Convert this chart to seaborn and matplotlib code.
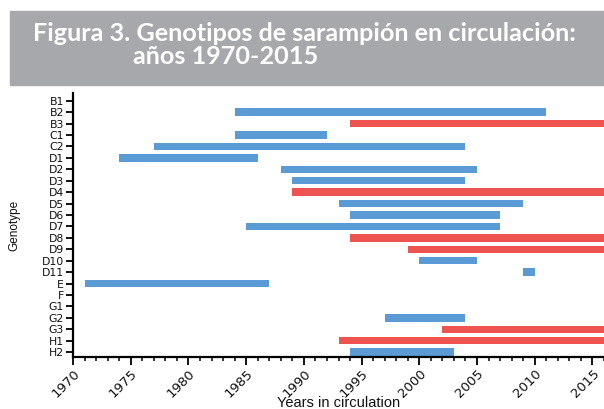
import matplotlib
matplotlib.use("Agg")
import matplotlib.pyplot as plt
from matplotlib.patches import Rectangle
from matplotlib.ticker import MultipleLocator
import seaborn as sns
import pandas as pd

genotypes = ["B1", "B2", "B3", "C1", "C2", "D1", "D2", "D3", "D4", "D5", "D6",
             "D7", "D8", "D9", "D10", "D11", "E", "F", "G1", "G2", "G3", "H1", "H2"]
bar_genotype = ["B2", "B3", "C1", "C2", "D1", "D2", "D3", "D4", "D5", "D6", "D7",
                "D8", "D9", "D10", "D11", "E", "G2", "G3", "H1", "H2"]
start_year = [1984, 1994, 1984, 1977, 1974, 1988, 1989, 1989, 1993, 1994, 1985,
              1994, 1999, 2000, 2009, 1971, 1997, 2002, 1993, 1994]
end_year = [2011, 2016, 1992, 2004, 1986, 2005, 2004, 2016, 2009, 2007, 2007,
            2016, 2016, 2005, 2010, 1987, 2004, 2016, 2016, 2003]
status = ["inactive", "active", "inactive", "inactive", "inactive", "inactive",
          "inactive", "active", "inactive", "inactive", "inactive", "active",
          "active", "inactive", "inactive", "inactive", "inactive", "active",
          "active", "inactive"]
palette = {"inactive": "#5A9BD5", "active": "#EF534F"}

df = pd.DataFrame({"genotype": bar_genotype, "start": start_year,
                   "end": end_year, "status": status})
df["duration"] = df["end"] - df["start"]
df["genotype"] = pd.Categorical(df["genotype"], categories=genotypes, ordered=True)

sns.set_theme(style="ticks")
plt.rcParams["font.family"] = ["DejaVu Sans"]

fig = plt.figure(figsize=(6.04, 4.09), dpi=100)
W, H = 604, 409
ax = fig.add_axes([73 / W, 1 - 357 / H, 531 / W, (357 - 93) / H])

for kind in ["inactive", "active"]:
    sub = df[df["status"] == kind].sort_values("genotype")
    sns.barplot(data=sub, x="duration", y="genotype", order=genotypes,
                color=palette[kind], left=sub["start"].to_numpy(),
                width=0.65, errorbar=None, saturation=1, ax=ax,
                linewidth=0)

ax.set_xlim(1970, 2016)
ax.set_ylim(len(genotypes) - 1 + 0.42, -0.67)
ax.xaxis.set_major_locator(MultipleLocator(5))
ax.xaxis.set_minor_locator(MultipleLocator(1))
sns.despine(ax=ax)
for s in ["left", "bottom"]:
    ax.spines[s].set_linewidth(1.6)
    ax.spines[s].set_color("black")
ax.tick_params(axis="y", which="major", length=5, width=1.3, color="black",
               labelsize=7.8, pad=1.5, labelcolor="#111111")
ax.tick_params(axis="x", which="major", length=6, width=1.3, color="black",
               labelsize=9.5, pad=1, labelcolor="#111111")
ax.tick_params(axis="x", which="minor", length=3, width=1.1, color="black")
for lab in ax.get_xticklabels():
    lab.set_rotation(45)
    lab.set_ha("right")
    lab.set_va("top")
    lab.set_rotation_mode("anchor")

ax.set_xlabel("Years in circulation", fontsize=10.5, color="#111111",
              family="Liberation Sans")
ax.xaxis.set_label_coords(0.5, -0.146)
ax.xaxis.label.set_va("top")
ax.set_ylabel("Genotype", fontsize=8.5, color="#111111",
              family="Liberation Sans")
ax.yaxis.set_label_coords(-0.10, 0.5)

fig.patches.append(Rectangle((10 / W, 1 - 85 / H), 1 - 10 / W, 74 / H,
                             transform=fig.transFigure, color="#A7A8AC",
                             zorder=0))
fig.text(33 / W, 1 - 41 / H, "Figura 3. Genotipos de sarampión en circulación:",
         color="white", fontsize=18.2, fontweight="bold", family="Lato",
         ha="left", va="baseline")
fig.text(133 / W, 1 - 64 / H, "años 1970-2015",
         color="white", fontsize=18.2, fontweight="bold", family="Lato",
         ha="left", va="baseline")

fig.savefig("out.png", dpi=100)
